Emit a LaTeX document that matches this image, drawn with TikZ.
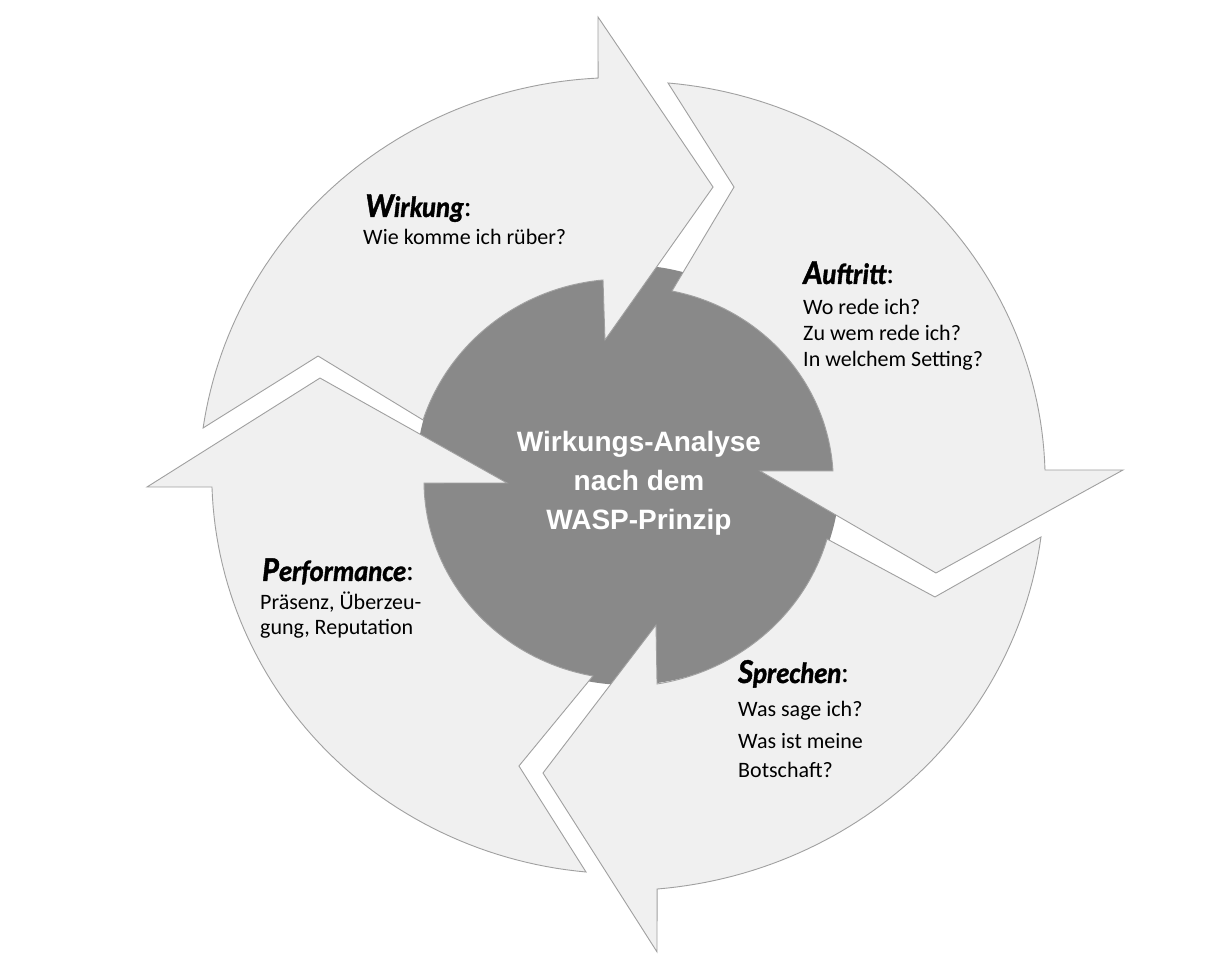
\documentclass[tikz,border=0pt]{standalone}
\usepackage{fontspec}
\setmainfont{Carlito}
\newfontfamily\headfont[FakeStretch=0.9, BoldItalicFeatures={FakeBold=1.2}]{Carlito}
\newfontfamily\arialfont{Liberation Sans}
\definecolor{arrowfill}{RGB}{240,240,240}
\definecolor{arrowline}{RGB}{160,160,160}
\definecolor{hubfill}{RGB}{137,137,137}
\newcommand\initial[1]{{\fontsize{35}{38}\selectfont #1}}
\begin{document}
\begin{tikzpicture}[x=1pt,y=1pt,
  arrowshape/.style={fill=arrowfill, draw=arrowline, line width=0.9pt, line join=miter},
  ringarc/.style n args={4}{insert path={-- plot[domain={#1}:{#3}, samples=60, variable=\t]
     ({((#2)+((#4)-(#2))*(\t-(#1))/((#3)-(#1)))*cos(\t)},
      {((#2)+((#4)-(#2))*(\t-(#1))/((#3)-(#1)))*sin(\t)})}},
  head/.style={inner sep=0pt, anchor=base west, font=\headfont\fontsize{29.5}{33}\selectfont\bfseries\itshape},
  body/.style={inner sep=0pt, anchor=base west, font=\fontsize{22}{26}\selectfont},
  hubtext/.style={inner sep=0pt, anchor=base, text=white, font=\arialfont\fontsize{28}{32}\selectfont\bfseries}]
\fill[white] (0,0) rectangle (1214,963);
\useasboundingbox (0,0) rectangle (1214,963);

% central hub
\fill[hubfill] (628,488) ellipse[x radius=212, y radius=210];

\begin{scope}[shift={(628,485)}, xscale=1.037]
  % Wirkung (top-left)
  \filldraw[arrowshape] (173.04:412.8) [ringarc={173.04}{412.8}{94.13}{401.0}]
     -- (93.59:461.9) -- (74.26:302.3) -- (99.14:139.8) -- (96.94:199.5)
     [ringarc={96.94}{199.5}{163.65}{206.0}] -- (157.8:322.8) -- cycle;
  % Auftritt (top-right)
  \filldraw[arrowshape] (84.42:396.9) [ringarc={84.42}{396.9}{1.14}{402.2}]
     -- (0.96:477.4) -- (-17.74:311.8) -- (3.15:127.5) -- (2.03:197.8)
     [ringarc={2.03}{197.8}{77.22}{191.75}] -- (70.64:308.4) -- cycle;
  % Sprechen (bottom-right)
  \filldraw[arrowshape] (-8.43:402.6) [ringarc={-8.43}{402.6}{-86.1}{412.0}]
     -- (-86.62:474.8) -- (-105.53:306.2) -- (-79.6:149.5) -- (-82.26:207.9)
     [ringarc={-82.26}{207.9}{-17.63}{201.4}] -- (-21.9:319.0) -- cycle;
  % Performance (bottom-left)
  \filldraw[arrowshape] (264.13:396.1) [ringarc={264.13}{396.1}{181.29}{401.3}]
     -- (181.11:463.9) -- (161.4:313.4) -- (182.45:116.8) -- (181.46:196.8)
     [ringarc={181.46}{196.8}{260.31}{200.9}] -- (249.94:306.6) -- cycle;
\end{scope}

% centre text
\node[hubtext] (hub1) at (639,511) {Wirkungs-Analyse};
\node[hubtext] (hub2) at (639,472) {nach dem};
\node[hubtext] (hub3) at (639,433) {WASP-Prinzip};

% Wirkung
\node[head] (wh) at (365,746) {\initial{W}irkung{\normalfont:}};
\node[body] (w1) at (363,718) {Wie komme ich rüber?};

% Auftritt
\node[head] (ah) at (803,679) {\initial{A}uftritt{\normalfont:}};
\node[body] (a1) at (803,648) {Wo rede ich?};
\node[body] (a2) at (803,622) {Zu wem rede ich?};
\node[body] (a3) at (803,596) {In welchem Setting?};

% Sprechen
\node[head] (sh) at (738,280) {\initial{S}prechen{\normalfont:}};
\node[body] (s1) at (738,246) {Was sage ich?};
\node[body] (s2) at (738,214) {Was ist meine};
\node[body] (s3) at (738,185) {Botschaft?};

% Performance
\node[head] (ph) at (262,382) {\initial{P}erformance{\normalfont:}};
\node[body] (p1) at (260,353) {Präsenz, Überzeu-};
\node[body] (p2) at (260,328) {gung, Reputation};
\end{tikzpicture}
\end{document}
